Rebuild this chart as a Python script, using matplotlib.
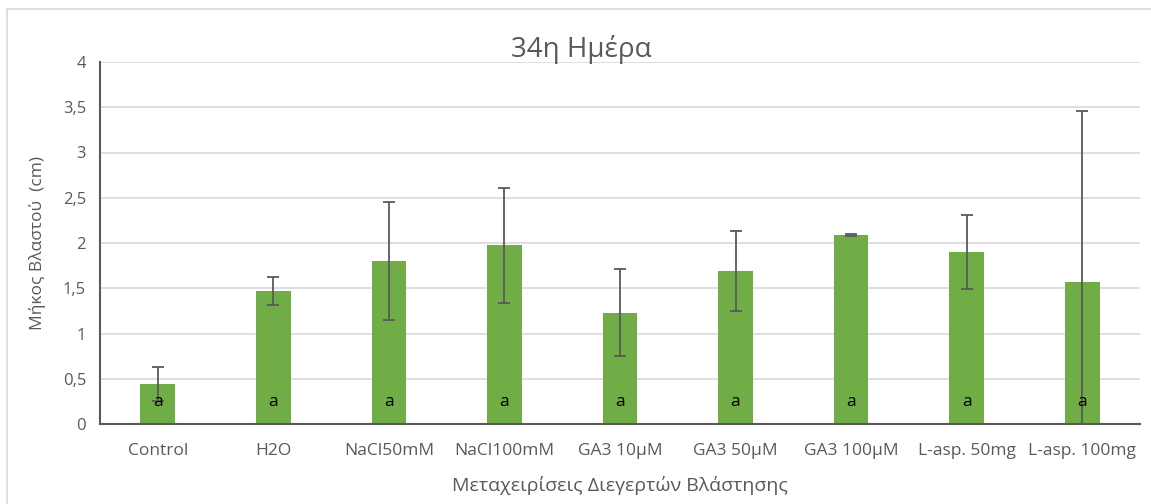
import matplotlib.pyplot as plt
from matplotlib.lines import Line2D

plt.rcParams['font.family'] = ['Open Sans', 'DejaVu Sans']

categories = ['Control', 'H2O', 'NaCl50mM', 'NaCl100mM', 'GA3 10μM',
              'GA3 50μM', 'GA3 100μM', 'L-asp. 50mg', 'L-asp. 100mg']
means = [0.44, 1.47, 1.80, 1.975, 1.23, 1.69, 2.09, 1.90, 1.57]
errors = [0.19, 0.15, 0.65, 0.635, 0.48, 0.44, 0.01, 0.41, 1.89]
letters = ['a', 'a', 'a', 'a', 'a', 'a', 'a', 'a', 'a']
yticks = [0, 0.5, 1, 1.5, 2, 2.5, 3, 3.5, 4]
ytick_labels = ['0', '0,5', '1', '1,5', '2', '2,5', '3', '3,5', '4']

W, H = 1151, 504
fig = plt.figure(figsize=(W / 100, H / 100), dpi=100)
ax = fig.add_axes([100 / W, 1 - 424 / H, 1040 / W, 362 / H])

grey = '#595959'
x = list(range(len(categories)))
ax.bar(x, means, width=0.30, color='#70AD47', zorder=2)
ax.errorbar(x, means, yerr=errors, fmt='none', ecolor=grey, elinewidth=1.3,
            capsize=4, capthick=1.3, zorder=3)
for xi, lab in zip(x, letters):
    ax.text(xi, 0.24, lab, ha='center', va='center', fontsize=12.5,
            color='black', zorder=4)

ax.set_xlim(-0.5, len(categories) - 0.5)
ax.set_ylim(0, 4)
ax.set_yticks(yticks)
ax.set_yticklabels(ytick_labels)
ax.set_xticks(x)
ax.set_xticklabels(categories)
ax.tick_params(axis='both', length=0, colors=grey)
ax.tick_params(axis='x', pad=14, labelsize=12.5)
ax.tick_params(axis='y', pad=10, labelsize=12)
ax.grid(axis='y', color='#d9d9d9', linewidth=1.2, zorder=0)
ax.set_axisbelow(True)
for side in ['top', 'right']:
    ax.spines[side].set_visible(False)
for side in ['left', 'bottom']:
    ax.spines[side].set_color(grey)
    ax.spines[side].set_linewidth(1.5)

fig.text(581 / W, 1 - 50 / H, '34η Ημέρα', fontsize=20, color=grey,
         ha='center', va='center')
ax.set_xlabel('Μεταχειρίσεις Διεγερτών Βλάστησης', fontsize=14, color=grey,
              labelpad=12)
ax.set_ylabel('Μήκος Βλαστού  (cm)', fontsize=12.5, color=grey, labelpad=12)

# chart frame edges
fig.add_artist(Line2D([7 / W, 7 / W], [0, 1 - 9 / H], color='#d9d9d9',
                      linewidth=1.2, transform=fig.transFigure))
fig.add_artist(Line2D([7 / W, 1], [1 - 9 / H, 1 - 9 / H], color='#d9d9d9',
                      linewidth=1.2, transform=fig.transFigure))

fig.savefig('out.png', dpi=100, facecolor='white')
